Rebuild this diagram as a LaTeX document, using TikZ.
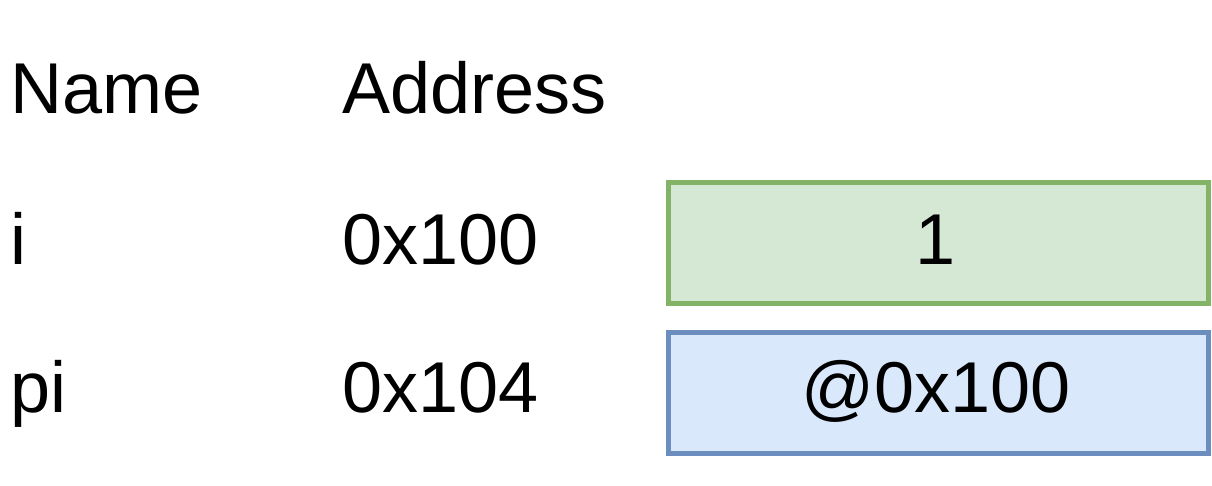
\documentclass[tikz,border=0pt]{standalone}
\usepackage{fontspec}
\setmainfont{Liberation Sans}
\definecolor{gfill}{HTML}{D5E8D4}
\definecolor{gline}{HTML}{82B366}
\definecolor{bfill}{HTML}{DAE8FC}
\definecolor{bline}{HTML}{6C8EBF}
\begin{document}
\begin{tikzpicture}[x=1pt,y=1pt,
  txt/.style={inner sep=0pt,anchor=base west,font=\fontsize{72}{86}\selectfont},
  ctxt/.style={inner sep=0pt,anchor=base,font=\fontsize{72}{86}\selectfont},
  cell/.style={draw,line width=5pt,minimum width=540pt,minimum height=121pt,inner sep=0pt}]
\useasboundingbox (0,0) rectangle (1212,486);
\node[txt] (hname) at (10,372) {Name};
\node[txt] (haddr) at (342,372) {Address};
\node[txt] (ni) at (10,221) {i};
\node[txt] (ai) at (342,221) {0x100};
\node[txt] (npi) at (10,73) {pi};
\node[txt] (api) at (342,73) {0x104};
\node[cell,fill=gfill,draw=gline] (bi) at (938.5,243) {};
\node[cell,fill=bfill,draw=bline] (bpi) at (938.5,93) {};
\node[ctxt] (vi) at (936,221) {1};
\node[ctxt] (vpi) at (936,73) {@0x100};
\end{tikzpicture}
\end{document}
